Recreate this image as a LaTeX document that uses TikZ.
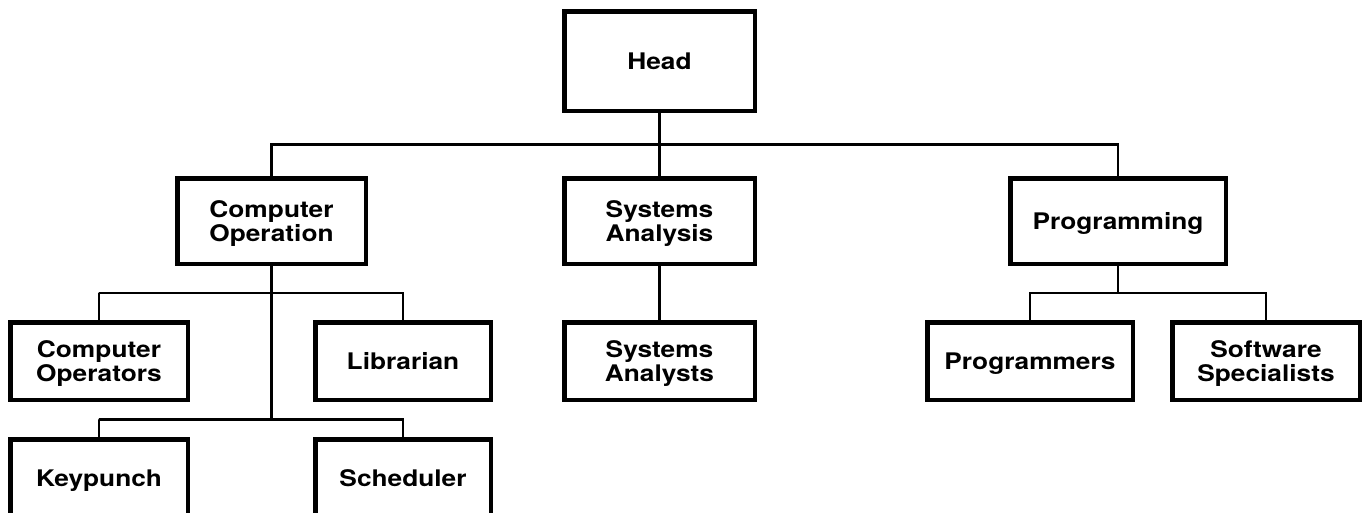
\documentclass[tikz,border=0pt]{standalone}
\usepackage{fontspec}
\newfontfamily\chartfont[FakeStretch=1.15]{TeX Gyre Heros}
\usepackage{tikz}
\usetikzlibrary{positioning, calc}

\begin{document}
\begin{tikzpicture}[
  every node/.style={font=\chartfont\bfseries\fontsize{13}{13.8}\selectfont, align=center},
  unit/.style ={rectangle, draw, line width=0.9mm, inner sep=0pt,
                minimum height=15.5mm, minimum width=35.5mm, text depth=0pt},
  link/.style ={line width=0.45mm},
]
\useasboundingbox (0,0) rectangle (272.8mm,-102.4mm);

% Top level
\node[unit, minimum width=38.1mm, minimum height=19.9mm]
  at (131.9mm,-12.2mm)                                       (head)     {Head};
\node[unit, below=12.6mm of head, minimum width=38.1mm, minimum height=17.1mm]
                                                             (sysan)    {Systems\\Analysis};
\node[unit, left=38.8mm of sysan, minimum width=37.7mm, minimum height=17.1mm]
                                                             (compop)   {Computer\\Operation};
\node[unit, right=50.2mm of sysan, minimum width=43.1mm, minimum height=17.1mm]
                                                             (prog)     {Programming};

% Second level
\node[unit, below=10.8mm of sysan, minimum width=38.1mm]     (analysts) {Systems\\Analysts};
\node[unit, left=13.8mm of analysts, minimum width=35.1mm]   (librarian){Librarian};
\node[unit, left=24.6mm of librarian]                        (operators){Computer\\Operators};
\node[unit, right=33.6mm of analysts, minimum width=41.1mm]  (coders)   {Programmers};
\node[unit, right=7mm of coders, minimum width=37.5mm]       (software) {Software\\Specialists};

% Third level
\node[unit, below=7mm of operators]                          (keypunch) {Keypunch};
\node[unit, below=7mm of librarian, minimum width=35.1mm]    (scheduler){Scheduler};

% Bus lines
\coordinate (topbus) at ($(head.south)!0.5!(sysan.north)$);
\coordinate (opbus)  at ($(operators.north)!0.5!(operators.north |- compop.south)$);
\coordinate (kpbus)  at ($(operators.south)!0.5!(keypunch.north)$);
\coordinate (prbus)  at ($(coders.north)!0.5!(coders.north |- prog.south)$);

\draw[link] (head.south) -- (sysan.north);
\draw[link] (compop.north) |- (topbus) -| (prog.north);
\draw[link] (sysan.south) -- (analysts.north);
\draw[link] (compop.south) -- (compop |- kpbus);
\draw[link] (operators.north) |- (opbus) -| (librarian.north);
\draw[link] (keypunch.north) |- (kpbus) -| (scheduler.north);
\draw[link] (prog.south) -- (prog |- prbus);
\draw[link] (coders.north) |- (prbus) -| (software.north);

\end{tikzpicture}
\end{document}
